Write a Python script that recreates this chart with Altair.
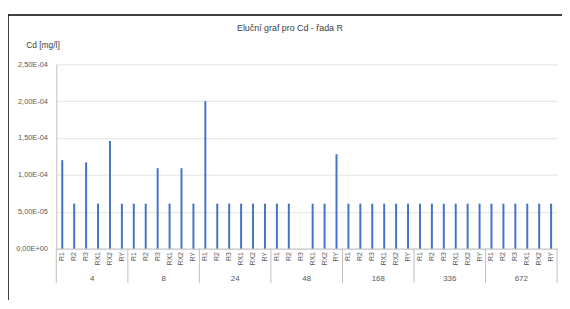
import altair as alt
import pandas as pd

groups = ["4", "8", "24", "48", "168", "336", "672"]
subs = ["R1", "R2", "R3", "RX1", "RX2", "RY"]
values = {
    "4":   [1.20e-4, 6.1e-5, 1.17e-4, 6.1e-5, 1.46e-4, 6.1e-5],
    "8":   [6.1e-5, 6.1e-5, 1.09e-4, 6.1e-5, 1.09e-4, 6.1e-5],
    "24":  [2.00e-4, 6.1e-5, 6.1e-5, 6.1e-5, 6.1e-5, 6.1e-5],
    "48":  [6.1e-5, 6.1e-5, None, 6.1e-5, 6.1e-5, 1.28e-4],
    "168": [6.1e-5, 6.1e-5, 6.1e-5, 6.1e-5, 6.1e-5, 6.1e-5],
    "336": [6.1e-5, 6.1e-5, 6.1e-5, 6.1e-5, 6.1e-5, 6.1e-5],
    "672": [6.1e-5, 6.1e-5, 6.1e-5, 6.1e-5, 6.1e-5, 6.1e-5],
}
y_ticks = [0, 5e-5, 1e-4, 1.5e-4, 2e-4, 2.5e-4]
y_tick_labels = ["0,00E+00", "5,00E-05", "1,00E-04", "1,50E-04", "2,00E-04", "2,50E-04"]
title_text = "Eluční graf pro Cd - řada R"
y_title = "Cd [mg/l]"

rows = []
for g in groups:
    for s, v in zip(subs, values[g]):
        rows.append({"key": f"{g}|{s}", "group": g, "sub": s, "value": v})
df = pd.DataFrame(rows)
order = list(df["key"])

FONT = "Liberation Sans"
GREY = "#595959"
W, H = 508, 187

xscale = alt.Scale(domain=order, paddingInner=0, paddingOuter=0)
label_map = "{" + ",".join(f"'{k}':'{k.split('|')[1]}'" for k in order) + "}"
ylabel_expr = "[" + ",".join(f"'{t}'" for t in y_tick_labels) + "][round(datum.value/5e-5)]"

bars = alt.Chart(df).mark_bar(size=2, color="#4472C4").encode(
    x=alt.X("key:N", scale=xscale, sort=order,
            axis=alt.Axis(title=None, labelAngle=270, labelFontSize=7, labelFont=FONT,
                          labelColor=GREY, ticks=False, domainColor="#BFBFBF",
                          labelPadding=3, labelExpr=f"{label_map}[datum.value]")),
    y=alt.Y("value:Q", scale=alt.Scale(domain=[0, 2.5e-4]),
            axis=alt.Axis(values=y_ticks, labelExpr=ylabel_expr, labelFontSize=7.5,
                          labelFont=FONT, labelColor=GREY, ticks=False, labelPadding=9,
                          domainColor="#BFBFBF", gridColor="#E4E4E4",
                          title=y_title, titleAngle=0, titleX=-14, titleY=-20,
                          titleAlign="center", titleBaseline="middle", titleFont=FONT,
                          titleFontSize=8.5, titleFontWeight="normal", titleColor="#404040")),
)

gdf = pd.DataFrame({"group": groups,
                    "first": [f"{g}|R1" for g in groups],
                    "mid": [f"{g}|R3" for g in groups],
                    "last": [f"{g}|RY" for g in groups]})

sep_start = alt.Chart(gdf).mark_rule(color="#BFBFBF", strokeWidth=1).encode(
    x=alt.X("first:N", scale=xscale, bandPosition=0),
    y=alt.value(H), y2=alt.value(H + 35))
sep_end = alt.Chart(gdf.tail(1)).mark_rule(color="#BFBFBF", strokeWidth=1).encode(
    x=alt.X("last:N", scale=xscale, bandPosition=1),
    y=alt.value(H), y2=alt.value(H + 35))
glabels = alt.Chart(gdf).mark_text(font=FONT, fontSize=8, baseline="middle").encode(
    x=alt.X("mid:N", scale=xscale, bandPosition=1),
    y=alt.value(H + 31), text="group:N", color=alt.value(GREY))

one = pd.DataFrame({"t": [title_text]})
title = alt.Chart(one).mark_text(font=FONT, fontSize=9, baseline="middle").encode(
    x=alt.value(237), y=alt.value(-37), text="t:N", color=alt.value("#404040"))
frame_left = alt.Chart(one).mark_rule(color="#000000", strokeWidth=1.5).encode(
    x=alt.value(-49), y=alt.value(-50), y2=alt.value(H + 60))
frame_top = alt.Chart(one).mark_rule(color="#000000", strokeWidth=1.5).encode(
    x=alt.value(-49), x2=alt.value(W + 10), y=alt.value(-50))

chart = alt.layer(bars, sep_start, sep_end, glabels, title, frame_left, frame_top).properties(
    width=W, height=H,
    autosize=alt.AutoSizeParams(type="none"),
    padding={"left": 49, "top": 55, "right": 5, "bottom": 50},
).configure_view(stroke=None)

chart.save("out.html", embed_options={"renderer": "svg", "actions": False})
